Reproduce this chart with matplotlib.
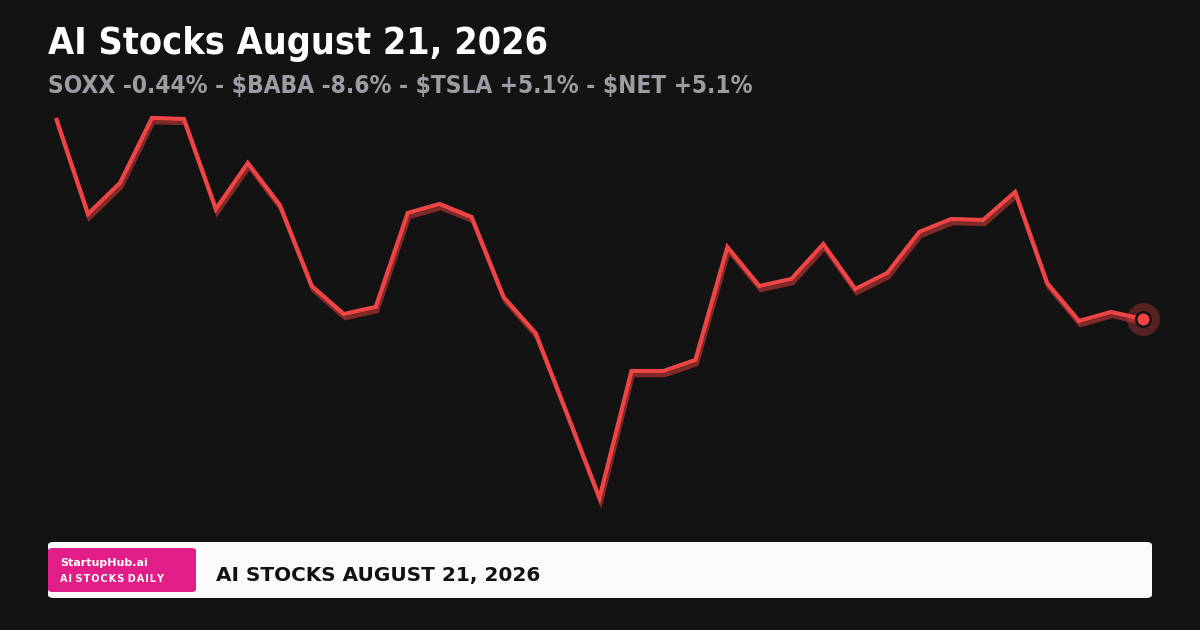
import matplotlib
matplotlib.use("Agg")
import matplotlib.pyplot as plt
import matplotlib.patheffects as pe
from matplotlib.patches import FancyBboxPatch

# data (one close per session)
days = list(range(35))
closes = [48.2, 38.6, 41.7, 48.2, 48.1, 39.1, 43.7, 39.5, 31.4, 28.6,
          29.3, 38.7, 39.6, 38.3, 30.3, 26.7, 18.5, 10.2, 22.9, 22.9,
          24.0, 35.3, 31.4, 32.1, 35.6, 31.1, 32.7, 36.8, 38.1, 38.0,
          40.8, 31.7, 27.9, 28.8, 28.1]

title = "AI Stocks August 21, 2026"
subtitle = "SOXX -0.44% - $BABA -8.6% - $TSLA +5.1% - $NET +5.1%"
brand = "StartupHub.ai"
brand_sub = "AI STOCKS DAILY"
footer = "AI STOCKS AUGUST 21, 2026"

BG = "#131313"
RED = "#ef4444"

plt.rcParams["font.family"] = ["DejaVu Sans"]

fig = plt.figure(figsize=(12, 6.3), dpi=100, facecolor=BG)
ax = fig.add_axes([0, 0, 1, 1])
ax.set_facecolor(BG)
ax.set_xlim(-1.7516, 35.783)
ax.set_ylim(-3, 60)
ax.axis("off")

# main line with a drop shadow
ax.plot(days, closes, color=RED, lw=3.0, solid_joinstyle="miter",
        solid_capstyle="butt", zorder=3,
        path_effects=[pe.SimpleLineShadow(offset=(1.0, -3.0), shadow_color="#8e2b2b", alpha=0.9),
                      pe.Normal()])

# last point marker with halo
ax.scatter([days[-1]], [closes[-1]], s=560, color=RED, alpha=0.3, lw=0, zorder=4)
ax.scatter([days[-1]], [closes[-1]], s=110, color=RED, edgecolors="#111111", linewidths=1.8, zorder=5)

# header text (condensed bold)
fig.text(48 / 1200, 1 - 54 / 630, title, color="white", fontsize=27, fontweight="bold",
         fontstretch="condensed", ha="left", va="baseline")
fig.text(48 / 1200, 1 - 93 / 630, subtitle, color="#9d9ca3", fontsize=17.5, fontweight="bold",
         fontstretch="condensed", ha="left", va="baseline")

# footer banner
W, H = 1200, 630
box = FancyBboxPatch((48 / W, 1 - 598 / H), (1152 - 48) / W, 56 / H,
                     boxstyle="round,pad=0,rounding_size=0.005", transform=fig.transFigure,
                     facecolor="#fafafa", edgecolor="none", zorder=6)
fig.patches.append(box)
tag = FancyBboxPatch((48 / W, 1 - 592 / H), (196 - 48) / W, 44 / H,
                     boxstyle="round,pad=0,rounding_size=0.004", transform=fig.transFigure,
                     facecolor="#e11d87", edgecolor="none", zorder=7)
fig.patches.append(tag)

fig.text(60 / W, 1 - 566 / H, brand, color="white", fontsize=8, fontweight="bold",
         ha="left", va="baseline", zorder=8)
fig.text(60 / W, 1 - 582 / H, "\u200a".join(brand_sub).replace("\u200a \u200a", " "),
         color="white", fontsize=7, fontweight="bold", ha="left", va="baseline", zorder=8)
fig.text(216 / W, 1 - 581 / H, footer, color="#111111", fontsize=14.4, fontweight="bold",
         ha="left", va="baseline", zorder=8)

fig.savefig("out.png", dpi=100, facecolor=BG)
